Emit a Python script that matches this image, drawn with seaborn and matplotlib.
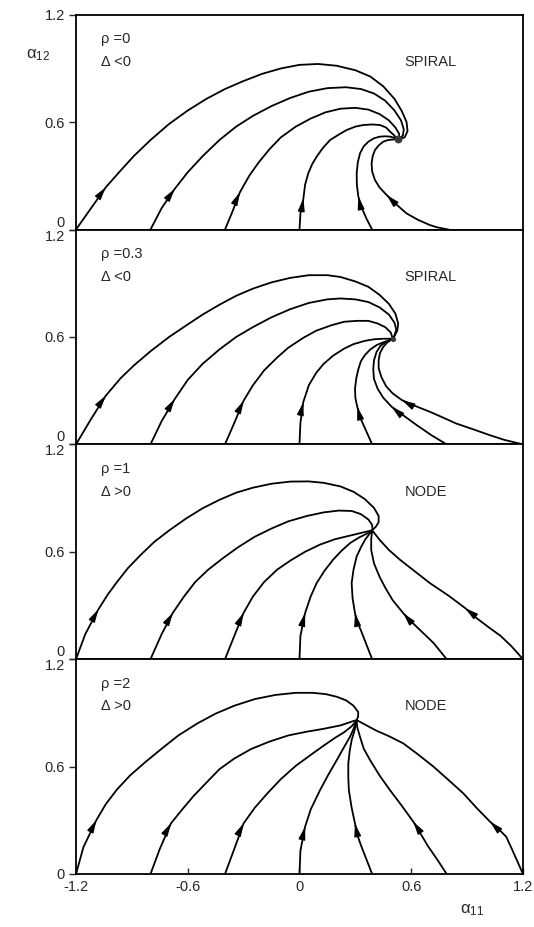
import pandas as pd
import matplotlib
matplotlib.use("Agg")
import matplotlib.pyplot as plt
import seaborn as sns

# trajectories: one list per curve, (alpha11, alpha12)
# panel rho = 0 (spiral)
rho0_x = [
    [-1.2, -1.04, -0.96, -0.89, -0.80, -0.70, -0.60, -0.50, -0.40, -0.30, -0.20, -0.10, 0.0, 0.10,
     0.20, 0.30, 0.38, 0.45, 0.51, 0.55, 0.575, 0.58, 0.565, 0.535],
    [-0.80, -0.74, -0.67, -0.60, -0.52, -0.43, -0.34, -0.25, -0.15, -0.05, 0.05, 0.15, 0.25, 0.33,
     0.40, 0.46, 0.51, 0.545, 0.56, 0.555, 0.535],
    [-0.40, -0.36, -0.32, -0.27, -0.22, -0.16, -0.10, -0.02, 0.06, 0.14, 0.22, 0.30, 0.37, 0.43,
     0.48, 0.515, 0.535, 0.535],
    [0.0, 0.005, 0.021, 0.03, 0.047, 0.068, 0.092, 0.125, 0.164, 0.21, 0.253, 0.30, 0.343, 0.39,
     0.432, 0.465, 0.486, 0.505, 0.522],
    [0.39, 0.36, 0.335, 0.316, 0.308, 0.307, 0.313, 0.325, 0.345, 0.37, 0.40, 0.432, 0.46, 0.486,
     0.52],
    [0.80, 0.74, 0.70, 0.635, 0.575, 0.52, 0.468, 0.43, 0.405, 0.39, 0.387, 0.393, 0.405, 0.425,
     0.45, 0.475, 0.52],
]
rho0_y = [
    [0.0, 0.236, 0.33, 0.41, 0.50, 0.59, 0.665, 0.73, 0.785, 0.83, 0.87, 0.90, 0.92, 0.925,
     0.915, 0.89, 0.855, 0.80, 0.73, 0.66, 0.60, 0.55, 0.515, 0.505],
    [0.0, 0.12, 0.227, 0.32, 0.41, 0.50, 0.575, 0.635, 0.69, 0.735, 0.77, 0.79, 0.795, 0.785,
     0.76, 0.72, 0.665, 0.61, 0.56, 0.525, 0.508],
    [0.0, 0.10, 0.208, 0.30, 0.374, 0.45, 0.515, 0.575, 0.62, 0.655, 0.675, 0.68, 0.67, 0.645,
     0.61, 0.57, 0.535, 0.51],
    [0.0, 0.09, 0.174, 0.25, 0.314, 0.365, 0.407, 0.455, 0.50, 0.53, 0.556, 0.575, 0.584, 0.587,
     0.584, 0.57, 0.547, 0.53, 0.51],
    [0.0, 0.06, 0.12, 0.184, 0.25, 0.314, 0.375, 0.426, 0.465, 0.491, 0.51, 0.519, 0.521, 0.519,
     0.51],
    [0.0, 0.012, 0.025, 0.055, 0.09, 0.14, 0.193, 0.235, 0.277, 0.325, 0.37, 0.41, 0.444, 0.47,
     0.491, 0.50, 0.505],
]
rho0_arrow = [1, 2, 2, 2, 3, 6]

# panel rho = 0.3 (spiral)
rho03_x = [
    [-1.2, -1.12, -1.04, -0.96, -0.89, -0.80, -0.70, -0.60, -0.52, -0.43, -0.34, -0.25, -0.15,
     -0.05, 0.05, 0.15, 0.22, 0.30, 0.37, 0.43, 0.48, 0.515, 0.53, 0.525, 0.505],
    [-0.80, -0.74, -0.67, -0.60, -0.52, -0.43, -0.34, -0.25, -0.15, -0.05, 0.05, 0.15, 0.22,
     0.30, 0.37, 0.43, 0.48, 0.51, 0.52, 0.505],
    [-0.40, -0.35, -0.30, -0.25, -0.19, -0.12, -0.06, 0.02, 0.09, 0.17, 0.24, 0.31, 0.37, 0.42,
     0.46, 0.49, 0.50],
    [0.0, 0.005, 0.02, 0.05, 0.09, 0.13, 0.18, 0.24, 0.29, 0.35, 0.40, 0.45, 0.50],
    [0.39, 0.36, 0.33, 0.31, 0.30, 0.298, 0.305, 0.316, 0.33, 0.352, 0.38, 0.415, 0.45, 0.48,
     0.50],
    [0.79, 0.71, 0.63, 0.56, 0.495, 0.45, 0.42, 0.40, 0.396, 0.40, 0.414, 0.435, 0.46, 0.49],
    [1.2, 1.10, 1.02, 0.93, 0.84, 0.77, 0.70, 0.62, 0.55, 0.50, 0.465, 0.44, 0.425, 0.425,
     0.432, 0.45, 0.47, 0.495],
]
rho03_y = [
    [0.0, 0.14, 0.272, 0.37, 0.44, 0.52, 0.60, 0.67, 0.725, 0.78, 0.83, 0.87, 0.905,
     0.93, 0.945, 0.945, 0.935, 0.91, 0.88, 0.835, 0.785, 0.73, 0.675, 0.635, 0.595],
    [0.0, 0.13, 0.253, 0.36, 0.45, 0.53, 0.60, 0.655, 0.71, 0.755, 0.79, 0.81, 0.815,
     0.81, 0.795, 0.765, 0.725, 0.68, 0.64, 0.595],
    [0.0, 0.12, 0.244, 0.33, 0.413, 0.485, 0.54, 0.595, 0.635, 0.665, 0.685, 0.69, 0.69, 0.675,
     0.655, 0.625, 0.592],
    [0.0, 0.12, 0.235, 0.33, 0.40, 0.45, 0.495, 0.535, 0.56, 0.578, 0.587, 0.59, 0.59],
    [0.0, 0.07, 0.14, 0.21, 0.26, 0.31, 0.37, 0.42, 0.465, 0.50, 0.53, 0.555, 0.57, 0.58,
     0.59],
    [0.0, 0.05, 0.107, 0.16, 0.21, 0.26, 0.31, 0.365, 0.42, 0.47, 0.517, 0.55, 0.57, 0.585],
    [0.0, 0.025, 0.052, 0.085, 0.117, 0.15, 0.182, 0.215, 0.247, 0.285, 0.325, 0.375, 0.425,
     0.47, 0.51, 0.545, 0.568, 0.587],
]
rho03_arrow = [2, 2, 2, 2, 3, 4, 8]

# panel rho = 1 (node)
rho1_x = [
    [-1.2, -1.15, -1.08, -1.03, -0.98, -0.92, -0.85, -0.78, -0.70, -0.61, -0.52, -0.43, -0.34,
     -0.25, -0.15, -0.05, 0.05, 0.13, 0.22, 0.29, 0.35, 0.40, 0.425, 0.425, 0.41, 0.395],
    [-0.80, -0.74, -0.68, -0.62, -0.56, -0.49, -0.41, -0.33, -0.24, -0.15, -0.06, 0.04, 0.13,
     0.21, 0.28, 0.33, 0.37, 0.39, 0.392],
    [-0.40, -0.35, -0.30, -0.25, -0.19, -0.12, -0.05, 0.03, 0.11, 0.19, 0.27, 0.33, 0.39],
    [0.0, 0.005, 0.03, 0.06, 0.092, 0.135, 0.18, 0.225, 0.271, 0.32, 0.36, 0.39],
    [0.39, 0.36, 0.33, 0.31, 0.298, 0.285, 0.28, 0.29, 0.307, 0.33, 0.352, 0.39],
    [0.79, 0.72, 0.65, 0.60, 0.557, 0.50, 0.46, 0.43, 0.40, 0.385, 0.385, 0.39],
    [1.2, 1.14, 1.08, 1.02, 0.95, 0.89, 0.80, 0.70, 0.62, 0.54, 0.48, 0.43, 0.39],
]
rho1_y = [
    [0.0, 0.14, 0.278, 0.36, 0.431, 0.51, 0.585, 0.655, 0.719, 0.785, 0.843, 0.89, 0.93,
     0.958, 0.98, 0.992, 0.993, 0.985, 0.965, 0.935, 0.895, 0.845, 0.80, 0.765, 0.74, 0.725],
    [0.0, 0.14, 0.259, 0.35, 0.431, 0.50, 0.565, 0.625, 0.684, 0.73, 0.77, 0.80, 0.82,
     0.83, 0.828, 0.81, 0.78, 0.75, 0.725],
    [0.0, 0.13, 0.259, 0.35, 0.431, 0.50, 0.55, 0.60, 0.64, 0.67, 0.69, 0.705, 0.72],
    [0.0, 0.13, 0.257, 0.35, 0.425, 0.495, 0.555, 0.605, 0.648, 0.68, 0.70, 0.72],
    [0.0, 0.08, 0.16, 0.21, 0.257, 0.34, 0.425, 0.50, 0.574, 0.625, 0.667, 0.72],
    [0.0, 0.09, 0.16, 0.21, 0.257, 0.33, 0.40, 0.46, 0.535, 0.61, 0.67, 0.72],
    [0.0, 0.07, 0.13, 0.175, 0.23, 0.285, 0.355, 0.425, 0.49, 0.555, 0.61, 0.667, 0.72],
]
rho1_arrow = [2, 2, 2, 2, 4, 4, 5]

# panel rho = 2 (node)
rho2_x = [
    [-1.2, -1.16, -1.09, -1.04, -0.98, -0.91, -0.83, -0.74, -0.65, -0.55, -0.45, -0.35, -0.24,
     -0.13, -0.02, 0.07, 0.14, 0.20, 0.25, 0.29, 0.315, 0.315, 0.307],
    [-0.80, -0.75, -0.69, -0.63, -0.57, -0.50, -0.43, -0.35, -0.26, -0.16, -0.06, 0.04, 0.13,
     0.22, 0.30],
    [-0.40, -0.35, -0.30, -0.24, -0.17, -0.10, -0.02, 0.06, 0.13, 0.19, 0.24, 0.28, 0.305],
    [0.0, 0.005, 0.03, 0.06, 0.11, 0.155, 0.20, 0.24, 0.271, 0.29, 0.303],
    [0.39, 0.36, 0.33, 0.31, 0.298, 0.28, 0.265, 0.262, 0.262, 0.27, 0.28, 0.295, 0.305],
    [0.79, 0.74, 0.69, 0.65, 0.611, 0.55, 0.486, 0.43, 0.379, 0.345, 0.325, 0.31, 0.307],
    [1.2, 1.17, 1.14, 1.11, 1.07, 1.023, 0.95, 0.88, 0.80, 0.72, 0.64, 0.558, 0.48, 0.414,
     0.36, 0.31],
]
rho2_y = [
    [0.0, 0.15, 0.302, 0.39, 0.472, 0.55, 0.623, 0.70, 0.774, 0.84, 0.896, 0.94, 0.977,
     1.00, 1.012, 1.012, 1.005, 0.99, 0.97, 0.94, 0.905, 0.88, 0.86],
    [0.0, 0.14, 0.283, 0.36, 0.434, 0.51, 0.585, 0.645, 0.698, 0.74, 0.774, 0.795, 0.811,
     0.83, 0.858],
    [0.0, 0.14, 0.283, 0.37, 0.453, 0.53, 0.604, 0.665, 0.717, 0.76, 0.792, 0.825, 0.855],
    [0.0, 0.13, 0.264, 0.36, 0.468, 0.555, 0.636, 0.71, 0.766, 0.81, 0.845],
    [0.0, 0.08, 0.16, 0.22, 0.282, 0.37, 0.468, 0.54, 0.617, 0.69, 0.748, 0.80, 0.845],
    [0.0, 0.08, 0.155, 0.225, 0.292, 0.38, 0.468, 0.55, 0.636, 0.70, 0.766, 0.82, 0.855],
    [0.0, 0.07, 0.14, 0.208, 0.25, 0.292, 0.37, 0.45, 0.525, 0.599, 0.665, 0.729, 0.77, 0.80,
     0.83, 0.858],
]
rho2_arrow = [2, 2, 2, 2, 4, 4, 5]

rho_labels = ["\u03c1 =0", "\u03c1 =0.3", "\u03c1 =1", "\u03c1 =2"]
delta_labels = ["\u0394 <0", "\u0394 <0", "\u0394 >0", "\u0394 >0"]
kind_labels = ["SPIRAL", "SPIRAL", "NODE", "NODE"]
focus_x = [0.53, 0.50, None, None]
focus_y = [0.505, 0.59, None, None]
focus_size = [32, 14, 0, 0]

y_ticks = [0, 0.6, 1.2]
y_tick_labels = ["0", "0.6", "1.2"]
x_ticks = [-1.2, -0.6, 0, 0.6, 1.2]
x_tick_labels = ["-1.2", "-0.6", "0", "0.6", "1.2"]

sns.set_theme(style="ticks")
plt.rcParams["font.family"] = ["Liberation Sans", "DejaVu Sans"]
plt.rcParams["mathtext.default"] = "regular"

panels = [
    (rho0_x, rho0_y, rho0_arrow),
    (rho03_x, rho03_y, rho03_arrow),
    (rho1_x, rho1_y, rho1_arrow),
    (rho2_x, rho2_y, rho2_arrow),
]

fig = plt.figure(figsize=(5.34, 9.27), dpi=100)
axes = fig.subplots(4, 1, sharex=True, gridspec_kw=dict(hspace=0))
fig.subplots_adjust(left=0.1423, right=0.9794, top=0.9841, bottom=0.0572)

for k, (ax, (xs, ys, arrows)) in enumerate(zip(axes, panels)):
    rows = []
    for c, (cx, cy) in enumerate(zip(xs, ys)):
        for i, (a, b) in enumerate(zip(cx, cy)):
            rows.append({"a11": a, "a12": b, "curve": c, "step": i})
    df = pd.DataFrame(rows)
    sns.lineplot(data=df, x="a11", y="a12", units="curve", estimator=None,
                 sort=False, color="black", lw=1.3, ax=ax)

    # direction arrows along each trajectory
    for cx, cy, i in zip(xs, ys, arrows):
        dx = cx[i + 1] - cx[i - 1]
        dy = cy[i + 1] - cy[i - 1]
        ax.annotate("", xy=(cx[i], cy[i]),
                    xytext=(cx[i] - 0.1 * dx, cy[i] - 0.1 * dy),
                    arrowprops=dict(arrowstyle="-|>,head_length=0.75,head_width=0.2",
                                    color="black", lw=1.0, shrinkA=0, shrinkB=0,
                                    mutation_scale=10))

    if focus_x[k] is not None:
        ax.scatter([focus_x[k]], [focus_y[k]], s=focus_size[k], color="#3a3a3a",
                   linewidths=0, zorder=3)

    ax.set_xlim(-1.2, 1.2)
    ax.set_ylim(0, 1.2)
    ax.set_yticks(y_ticks)
    ax.set_yticklabels(y_tick_labels, fontsize=10.5)
    for lbl in ax.get_yticklabels():
        if lbl.get_text() == "0" and k < 3:
            lbl.set_verticalalignment("bottom")
        if lbl.get_text() == "1.2" and k > 0:
            lbl.set_verticalalignment("top")
    ax.set_xlabel("")
    ax.set_ylabel("")
    ax.tick_params(axis="y", direction="out", length=5, width=1.0, pad=3)
    ax.tick_params(axis="x", direction="in", length=0)
    for s in ax.spines.values():
        s.set_linewidth(1.3)
        s.set_color("black")

    ax.text(0.055, 0.885, rho_labels[k], transform=ax.transAxes, fontsize=10.5,
            va="center", ha="left")
    ax.text(0.055, 0.78, delta_labels[k], transform=ax.transAxes, fontsize=10.5,
            va="center", ha="left")
    ax.text(0.735, 0.78, kind_labels[k], transform=ax.transAxes, fontsize=10.5,
            va="center", ha="left")

axes[-1].set_xticks(x_ticks)
axes[-1].set_xticklabels(x_tick_labels, fontsize=10.5)
axes[-1].tick_params(axis="x", direction="in", length=4, width=1.0, pad=4)

fig.text(0.072, 0.94, "\u03b1$_{12}$", fontsize=12, ha="center", va="center")
fig.text(0.884, 0.018, "\u03b1$_{11}$", fontsize=12, ha="center", va="center")

fig.savefig("out.png", dpi=100)
